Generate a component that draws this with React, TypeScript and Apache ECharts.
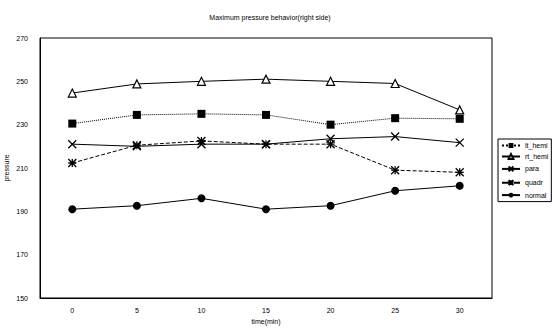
import React, { useEffect, useRef } from "react";
import * as echarts from "echarts";

const categories = ["0", "5", "10", "15", "20", "25", "30"];
const ltHemi = [230.5, 234.5, 235, 234.5, 230, 233, 232.7];
const rtHemi = [244.6, 248.8, 250, 251, 250, 249, 236.8];
const para = [221, 220, 221, 221, 223.5, 224.5, 221.7];
const quadr = [212.3, 220.5, 222.5, 221, 221, 209, 208];
const normal = [191, 192.6, 196, 191, 192.6, 199.5, 201.8];
const yTicks = { min: 150, max: 270, interval: 20 };

const X_PATH = "path://M0,0 L10,10 M10,0 L0,10";
const STAR_PATH = "path://M0,0 L10,10 M10,0 L0,10 M5,0 L5,10 M0,5 L10,5";

export default function App() {
  const ref = useRef<HTMLDivElement>(null);
  useEffect(() => {
    const chart = echarts.init(ref.current!, null, { renderer: "svg" });
    const font = "Liberation Sans, Arial, sans-serif";
    const base = (name: string, data: number[], extra: any) => ({
      name,
      type: "line",
      data,
      symbolSize: 8,
      lineStyle: { color: "#000", width: 1 },
      itemStyle: { color: "#000" },
      ...extra,
    });
    chart.setOption({
      animation: false,
      backgroundColor: "#fff",
      textStyle: { fontFamily: font, color: "#000" },
      title: {
        text: "Maximum pressure behavior(right side)",
        left: 265,
        textAlign: "center",
        top: 9,
        textStyle: { fontSize: 7, fontWeight: "normal", color: "#000", fontFamily: font },
      },
      grid: {
        left: 40,
        top: 38,
        right: 60,
        bottom: 31,
        containLabel: false,
        outerBoundsMode: "none",
        show: true,
        borderColor: "#000",
        borderWidth: 1,
      },
      legend: {
        orient: "vertical",
        left: 498,
        top: 139,
        itemWidth: 18,
        itemHeight: 6,
        itemGap: 4,
        padding: [3, 3, 3, 3],
        borderColor: "#000",
        borderWidth: 1,
        inactiveColor: "#000",
        textStyle: { fontSize: 7, color: "#000", fontFamily: font },
        data: ["lt_hemi", "rt_hemi", "para", "quadr", "normal"],
      },
      xAxis: {
        type: "category",
        data: categories,
        boundaryGap: true,
        name: "time(min)",
        nameLocation: "middle",
        nameGap: 20,
        nameMoveOverlap: false,
        nameTextStyle: { fontSize: 7, color: "#000" },
        axisLine: { lineStyle: { color: "#000", width: 1 } },
        axisTick: { inside: true, length: 3, lineStyle: { color: "#000" } },
        axisLabel: { fontSize: 7, color: "#000", margin: 9 },
        splitLine: { show: false },
      },
      yAxis: {
        type: "value",
        min: yTicks.min,
        max: yTicks.max,
        interval: yTicks.interval,
        name: "pressure",
        nameLocation: "middle",
        nameGap: 30,
        nameMoveOverlap: false,
        nameTextStyle: { fontSize: 7, color: "#000" },
        axisLine: { show: true, lineStyle: { color: "#000", width: 1 } },
        axisTick: { show: false },
        axisLabel: { fontSize: 7, color: "#000", margin: 12 },
        splitLine: { show: false },
      },
      series: [
        base("lt_hemi", ltHemi, {
          symbol: "rect",
          symbolSize: 8,
          lineStyle: { color: "#000", width: 1, type: "dotted" },
        }),
        base("rt_hemi", rtHemi, {
          symbol: "triangle",
          symbolSize: 8,
          itemStyle: { color: "#fff", borderColor: "#000", borderWidth: 1.2 },
        }),
        base("para", para, {
          symbol: X_PATH,
          symbolSize: 8,
          itemStyle: { color: "none", borderColor: "#000", borderWidth: 1.3 },
        }),
        base("quadr", quadr, {
          symbol: STAR_PATH,
          symbolSize: 8,
          lineStyle: { color: "#000", width: 1, type: "dashed" },
          itemStyle: { color: "none", borderColor: "#000", borderWidth: 1.3 },
        }),
        base("normal", normal, {
          symbol: "circle",
          symbolSize: 8,
        }),
      ],
    });
    return () => chart.dispose();
  }, []);
  return <div ref={ref} style={{ width: 552, height: 329, position: "absolute", left: 0, top: 0 }} />;
}
